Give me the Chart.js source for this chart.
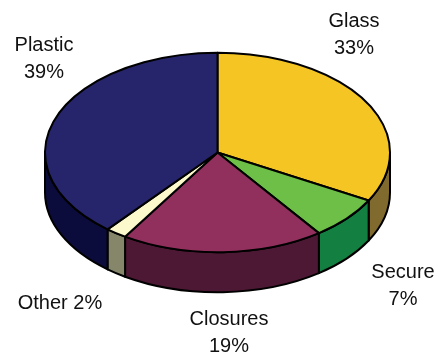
<!DOCTYPE html>
<html>
<head>
<meta charset="utf-8">
<script src="https://cdn.jsdelivr.net/npm/chart.js@4/dist/chart.umd.min.js"></script>
<style>
    html, body { margin: 0; padding: 0; background: #fff; }
    #wrap { width: 440px; height: 357px; }
</style>
</head>
<body>
<div id="wrap"><canvas id="closures"></canvas></div>
<script>
const labels = ['Glass', 'Secure', 'Closures', 'Other', 'Plastic']
const shares = [33, 7, 19, 2, 39]

// Colors for the top faces and the darker side walls
const topColors = ['#f5c623', '#6dbf47', '#92305d', '#fcf9cc', '#26256b']
const sideColors = ['#806a2e', '#137f40', '#4c1833', '#86866a', '#0c0c3c']

// label text: lines and where each block sits (center x, first baseline)
const labelLines = [
    ['Glass', '33%'],
    ['Secure', '7%'],
    ['Closures', '19%'],
    ['Other 2%'],
    ['Plastic', '39%'],
]
const labelAt = [
    [354, 27],
    [403, 278],
    [229, 325],
    [60, 309],
    [44, 51],
]

const tilt = 0.578
const depthRatio = 0.232

const pie3d = {
    id: 'pie3d',
    beforeDatasetsDraw(chart) {
        const ctx = chart.ctx
        const arcs = chart.getDatasetMeta(0).data
        if (!arcs.length) return false
        const r = arcs[0].outerRadius
        const rx = r
        const ry = r * tilt
        const depth = r * depthRatio
        const cx = arcs[0].x
        const cy = arcs[0].y - depth / 2

        ctx.save()
        ctx.lineWidth = 2
        ctx.lineJoin = 'round'
        ctx.strokeStyle = '#000'

        // side walls, only the front half (0..PI) shows
        arcs.forEach((arc, i) => {
            const s = Math.max(arc.startAngle, 0)
            const e = Math.min(arc.endAngle, Math.PI)
            if (e <= s) return
            ctx.beginPath()
            ctx.ellipse(cx, cy, rx, ry, 0, s, e)
            ctx.lineTo(cx + rx * Math.cos(e), cy + depth + ry * Math.sin(e))
            ctx.ellipse(cx, cy + depth, rx, ry, 0, e, s, true)
            ctx.closePath()
            ctx.fillStyle = sideColors[i]
            ctx.fill()
            ctx.stroke()
        })

        // top faces
        arcs.forEach((arc, i) => {
            ctx.beginPath()
            ctx.moveTo(cx, cy)
            ctx.ellipse(cx, cy, rx, ry, 0, arc.startAngle, arc.endAngle)
            ctx.closePath()
            ctx.fillStyle = topColors[i]
            ctx.fill()
            ctx.stroke()
        })

        // labels
        ctx.fillStyle = '#111'
        ctx.font = '20px "Liberation Sans", Arial, sans-serif'
        ctx.textAlign = 'center'
        ctx.textBaseline = 'alphabetic'
        labelLines.forEach((lines, i) => {
            lines.forEach((t, k) => {
                ctx.fillText(t, labelAt[i][0], labelAt[i][1] + k * 27)
            })
        })
        ctx.restore()
        return false
    },
}

new Chart(document.getElementById('closures'), {
    type: 'pie',
    data: {
        labels: labels,
        datasets: [
            {
                data: shares,
                backgroundColor: topColors,
                borderWidth: 0,
                hoverBorderWidth: 0,
                hoverOffset: 0,
            },
        ],
    },
    options: {
        responsive: true,
        maintainAspectRatio: false,
        animation: false,
        events: [],
        layout: { padding: { left: 44, right: 49, top: 0, bottom: 12 } },
        plugins: {
            legend: { display: false },
            tooltip: { enabled: false },
        },
    },
    plugins: [pie3d],
})
</script>
</body>
</html>
